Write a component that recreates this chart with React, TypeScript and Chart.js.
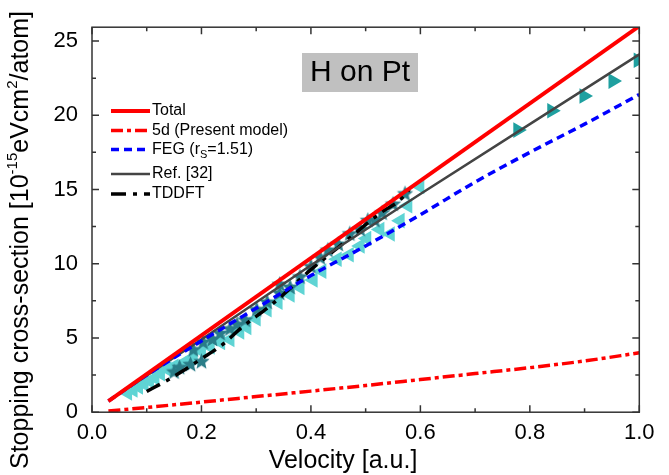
import React, { useEffect, useRef } from "react";
import { Chart, registerables } from "chart.js";

Chart.register(...registerables);

const FONT = "'Liberation Sans', Arial, Helvetica, sans-serif";

// ---- axis ticks ----
const xTicks = [0, 0.2, 0.4, 0.6, 0.8, 1.0];
const yTicks = [0, 5, 10, 15, 20, 25];
const xMax = 1.0;
const yMax = 25.93;

// ---- curves ----
const totalV = [0.03, 1.0];
const totalS = [0.75, 26.0];

const d5V = [0.03, 0.1, 0.2, 0.3, 0.4, 0.5, 0.6, 0.7, 0.8, 0.9, 1.0];
const d5S = [0.08, 0.32, 0.68, 1.05, 1.42, 1.8, 2.2, 2.6, 3.0, 3.45, 4.0];

const fegV = [0.03, 0.1, 0.2, 0.3, 0.4, 0.5, 0.6, 0.7, 0.8, 0.9, 1.0];
const fegS = [0.75, 2.5, 4.8, 7.0, 9.2, 11.2, 13.3, 15.5, 17.5, 19.4, 21.4];

const refV = [0.03, 0.2, 0.4, 0.6, 0.8, 1.0];
const refS = [0.75, 4.9, 9.9, 14.7, 19.4, 24.1];

const tddftV = [0.1, 0.14, 0.2, 0.24, 0.27, 0.33, 0.4, 0.46, 0.53, 0.56, 0.58];
const tddftS = [1.4, 2.2, 3.6, 4.6, 5.6, 7.3, 9.6, 11.4, 13.5, 14.2, 15.0];

// ---- experimental points ----
const cyanV = [0.065, 0.075, 0.085, 0.095, 0.105, 0.115, 0.125, 0.137, 0.15, 0.17, 0.185, 0.2, 0.216, 0.235, 0.252, 0.27, 0.283, 0.3, 0.32, 0.34, 0.362, 0.38, 0.404, 0.42, 0.448, 0.47, 0.49, 0.502, 0.526, 0.545, 0.563, 0.577, 0.599];
const cyanS = [1.3, 1.5, 1.7, 1.9, 2.1, 2.3, 2.6, 2.9, 3.1, 3.4, 3.7, 4.1, 4.4, 4.7, 4.9, 5.4, 5.7, 6.3, 6.9, 7.4, 7.9, 8.4, 8.9, 9.5, 10.3, 10.6, 11.2, 11.7, 12.3, 12.0, 12.9, 13.9, 15.2];

const starV = [0.15, 0.16, 0.18, 0.185, 0.2, 0.203, 0.22, 0.234, 0.252, 0.265, 0.28, 0.301, 0.32, 0.343, 0.343, 0.362, 0.38, 0.4, 0.417, 0.431, 0.45, 0.471, 0.49, 0.504, 0.517, 0.53, 0.55, 0.572];
const starS = [2.7, 3.0, 3.2, 4.2, 3.4, 4.7, 4.9, 5.3, 5.6, 5.9, 6.2, 6.9, 7.4, 8.0, 8.6, 8.4, 9.1, 9.8, 10.4, 10.9, 11.3, 12.0, 12.3, 12.9, 12.9, 13.4, 14.0, 14.7];

const tealV = [0.778, 0.84, 0.899, 0.952, 0.998];
const tealS = [19.0, 20.3, 21.3, 22.3, 23.7];

const zip = (xs: number[], ys: number[]) => xs.map((x, i) => ({ x, y: ys[i] }));

function makeStar(r: number, color: string): HTMLCanvasElement {
  const c = document.createElement("canvas");
  const s = Math.ceil(r * 2 + 2);
  c.width = s;
  c.height = s;
  const ctx = c.getContext("2d")!;
  ctx.fillStyle = color;
  ctx.beginPath();
  for (let i = 0; i < 10; i++) {
    const a = -Math.PI / 2 + (i * Math.PI) / 5;
    const rad = i % 2 === 0 ? r : r * 0.45;
    ctx.lineTo(s / 2 + rad * Math.cos(a), s / 2 + rad * Math.sin(a));
  }
  ctx.closePath();
  ctx.fill();
  return c;
}

const legendRows = [111, 130.5, 149.5, 174, 194];

const decor = {
  id: "decor",
  afterDraw(chart: any) {
    const { ctx, chartArea: a, scales } = chart;
    const xs = scales.x;
    const ys = scales.y;
    ctx.save();
    // frame
    ctx.strokeStyle = "#333";
    ctx.lineWidth = 1.5;
    ctx.setLineDash([]);
    ctx.strokeRect(a.left, a.top, a.right - a.left, a.bottom - a.top);
    // ticks (inward)
    const major = 7;
    const minor = 4;
    const xAll: [number, number][] = [];
    xTicks.forEach((v, i) => {
      xAll.push([v, major]);
      if (i < xTicks.length - 1) xAll.push([(v + xTicks[i + 1]) / 2, minor]);
    });
    const yAll: [number, number][] = [];
    yTicks.forEach((v, i) => {
      yAll.push([v, major]);
      const nxt = i < yTicks.length - 1 ? yTicks[i + 1] : v + (v - yTicks[i - 1]);
      const mid = (v + nxt) / 2;
      if (mid < yMax) yAll.push([mid, minor]);
    });
    ctx.beginPath();
    xAll.forEach(([v, len]) => {
      const px = xs.getPixelForValue(v);
      ctx.moveTo(px, a.bottom);
      ctx.lineTo(px, a.bottom - len);
      ctx.moveTo(px, a.top);
      ctx.lineTo(px, a.top + len);
    });
    yAll.forEach(([v, len]) => {
      const py = ys.getPixelForValue(v);
      ctx.moveTo(a.left, py);
      ctx.lineTo(a.left + len, py);
      ctx.moveTo(a.right, py);
      ctx.lineTo(a.right - len, py);
    });
    ctx.stroke();

    // title box
    ctx.fillStyle = "#c0c0c0";
    ctx.fillRect(302, 53, 116, 39);
    ctx.fillStyle = "#000";
    ctx.font = `30px ${FONT}`;
    ctx.textAlign = "center";
    ctx.textBaseline = "middle";
    ctx.fillText("H on Pt", 360, 73);

    // legend
    const lineDs = chart.data.datasets.filter((d: any) => d.legendText);
    lineDs.forEach((d: any, i: number) => {
      const y = legendRows[i];
      ctx.beginPath();
      ctx.strokeStyle = d.borderColor;
      ctx.lineWidth = d.borderWidth;
      ctx.setLineDash(d.borderDash || []);
      ctx.lineCap = "butt";
      ctx.moveTo(111, y);
      ctx.lineTo(150, y);
      ctx.stroke();
      ctx.setLineDash([]);
      ctx.fillStyle = "#000";
      ctx.textAlign = "left";
      ctx.textBaseline = "middle";
      let x = 152;
      (d.legendText as [string, number][]).forEach(([t, kind]) => {
        if (kind === 0) {
          ctx.font = `16px ${FONT}`;
          ctx.fillText(t, x, y);
        } else {
          ctx.font = `11px ${FONT}`;
          ctx.fillText(t, x, y + 5);
        }
        x += ctx.measureText(t).width;
      });
    });

    // y title with superscripts
    const parts: [string, boolean][] = [
      ["Stopping cross-section [10", false],
      ["-15", true],
      ["eVcm", false],
      ["2", true],
      ["/atom]", false],
    ];
    const big = `25px ${FONT}`;
    const small = `15px ${FONT}`;
    let total = 0;
    parts.forEach(([t, s]) => {
      ctx.font = s ? small : big;
      total += ctx.measureText(t).width;
    });
    ctx.translate(21, 240);
    ctx.rotate(-Math.PI / 2);
    let px = -total / 2;
    ctx.textAlign = "left";
    ctx.textBaseline = "middle";
    parts.forEach(([t, s]) => {
      ctx.font = s ? small : big;
      ctx.fillText(t, px, s ? -8 : 0);
      px += ctx.measureText(t).width;
    });
    ctx.setTransform(1, 0, 0, 1, 0, 0);

    // x title
    ctx.font = big;
    ctx.textAlign = "center";
    ctx.textBaseline = "middle";
    ctx.fillText("Velocity [a.u.]", 343, 461);
    ctx.restore();
  },
};

export default function App() {
  const ref = useRef<HTMLCanvasElement>(null);
  useEffect(() => {
    const canvas = ref.current!;
    const star = makeStar(8.5, "#2a7d88");
    const chart = new Chart(canvas, {
      type: "scatter",
      data: {
        datasets: [
          {
            label: "Total",
            legendText: [["Total", 0]],
            data: zip(totalV, totalS),
            showLine: true,
            borderColor: "#ff0000",
            borderWidth: 4,
            pointRadius: 0,
            order: 1,
          },
          {
            label: "5d (Present model)",
            legendText: [["5d (Present model)", 0]],
            data: zip(d5V, d5S),
            showLine: true,
            borderColor: "#ff0000",
            borderWidth: 3.5,
            borderDash: [12, 4, 4, 4],
            cubicInterpolationMode: "monotone",
            pointRadius: 0,
            order: 2,
          },
          {
            label: "FEG (rS=1.51)",
            legendText: [["FEG (r", 0], ["S", 1], ["=1.51)", 0]],
            data: zip(fegV, fegS),
            showLine: true,
            borderColor: "#0000ff",
            borderWidth: 3.5,
            borderDash: [8, 5],
            cubicInterpolationMode: "monotone",
            pointRadius: 0,
            order: 3,
          },
          {
            label: "Ref. [32]",
            legendText: [["Ref. [32]", 0]],
            data: zip(refV, refS),
            showLine: true,
            borderColor: "#444444",
            borderWidth: 2.5,
            pointRadius: 0,
            order: 4,
          },
          {
            label: "TDDFT",
            legendText: [["TDDFT", 0]],
            data: zip(tddftV, tddftS),
            showLine: true,
            borderColor: "#000000",
            borderWidth: 3.5,
            borderDash: [15, 7, 4, 7],
            cubicInterpolationMode: "monotone",
            pointRadius: 0,
            order: 5,
          },
          {
            label: "exp-a",
            data: zip(tealV, tealS),
            pointStyle: "triangle",
            rotation: 90,
            pointRadius: 9,
            backgroundColor: "#1fa0a0",
            borderWidth: 0,
            clip: 0,
            order: 10,
          },
          {
            label: "exp-b",
            data: zip(starV, starS),
            pointStyle: star,
            pointRadius: 8.5,
            backgroundColor: "#2a7d88",
            borderWidth: 0,
            order: 11,
          },
          {
            label: "exp-c",
            data: zip(cyanV, cyanS),
            pointStyle: "triangle",
            rotation: -90,
            pointRadius: 9,
            backgroundColor: "#5fd4d4",
            borderWidth: 0,
            order: 12,
          },
        ] as any,
      },
      options: {
        responsive: false,
        animation: false,
        devicePixelRatio: 1,
        layout: { padding: { left: 0, right: 29.7, top: 25, bottom: 0 } },
        plugins: { legend: { display: false }, tooltip: { enabled: false } },
        scales: {
          x: {
            type: "linear",
            min: 0,
            max: xMax,
            afterFit: (s: any) => {
              s.height = 62.8;
            },
            afterBuildTicks: (s: any) => {
              s.ticks = xTicks.map((v) => ({ value: v }));
            },
            ticks: {
              callback: (v: any) => Number(v).toFixed(1),
              font: { family: FONT, size: 22 },
              color: "#000",
              padding: 8,
              maxRotation: 0,
              autoSkip: false,
            },
            grid: { display: false, drawTicks: false },
            border: { display: false },
          },
          y: {
            type: "linear",
            min: 0,
            max: yMax,
            afterFit: (s: any) => {
              s.width = 92;
            },
            afterBuildTicks: (s: any) => {
              s.ticks = yTicks.map((v) => ({ value: v }));
            },
            ticks: {
              callback: (v: any) => String(v),
              font: { family: FONT, size: 22 },
              color: "#000",
              padding: 14,
              autoSkip: false,
            },
            grid: { display: false, drawTicks: false },
            border: { display: false },
          },
        },
      },
      plugins: [decor],
    });
    return () => chart.destroy();
  }, []);
  return (
    <div style={{ position: "fixed", left: 0, top: 0, width: 669, height: 475, background: "#fff" }}>
      <canvas ref={ref} width={669} height={475} style={{ display: "block" }} />
    </div>
  );
}
